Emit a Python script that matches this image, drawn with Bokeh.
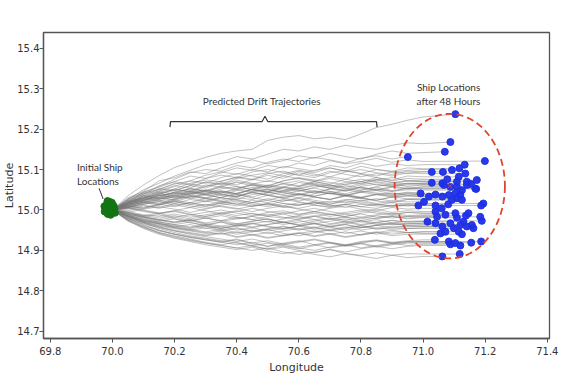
from bokeh.plotting import figure
from bokeh.models import Range1d, FixedTicker, PrintfTickFormatter
from bokeh.embed import file_html
from bokeh.resources import INLINE
from bokeh.core.properties import value

# ---------------- data ----------------
x_ticks = [69.8, 70.0, 70.2, 70.4, 70.6, 70.8, 71.0, 71.2, 71.4]
y_ticks = [14.7, 14.8, 14.9, 15.0, 15.1, 15.2, 15.3, 15.4]

start_lon = [69.978, 69.982, 69.990, 69.998, 70.004, 70.003, 69.994, 69.985,
             69.975, 69.990, 69.998, 69.984, 70.006, 69.974, 70.008]
start_lat = [15.002, 15.014, 15.020, 15.018, 15.010, 14.996, 14.988, 14.990,
             14.996, 15.005, 15.000, 15.022, 15.003, 15.009, 14.993]

end_lon = [71.104, 71.088, 71.070, 70.951, 71.199, 71.134, 71.117, 71.093, 71.028, 71.064,
           71.136, 71.115, 71.078, 71.028, 71.173, 71.141, 71.155, 71.109, 71.062, 71.067,
           71.088, 71.109, 71.125, 71.141, 71.168, 70.992, 71.019, 71.040, 71.062, 71.083,
           71.104, 71.120, 71.109, 71.125, 71.003, 70.985, 71.040, 71.081, 71.194, 71.187,
           71.040, 71.045, 71.072, 71.104, 71.109, 71.138, 71.146, 71.184, 71.189, 71.014,
           71.040, 71.062, 71.088, 71.099, 71.120, 71.130, 71.141, 71.157, 71.162, 71.056,
           71.072, 71.115, 71.125, 71.038, 71.083, 71.088, 71.104, 71.120, 71.155, 71.187,
           71.062, 71.118, 71.171, 71.060, 71.093]
end_lat = [15.237, 15.168, 15.144, 15.131, 15.121, 15.112, 15.103, 15.099, 15.094, 15.094,
           15.090, 15.082, 15.076, 15.067, 15.074, 15.070, 15.064, 15.070, 15.066, 15.062,
           15.057, 15.057, 15.049, 15.062, 15.053, 15.041, 15.033, 15.038, 15.033, 15.037,
           15.041, 15.037, 15.029, 15.025, 15.020, 15.011, 15.011, 15.014, 15.016, 15.011,
           14.996, 14.983, 14.988, 14.992, 14.981, 14.986, 14.992, 14.983, 14.973, 14.971,
           14.967, 14.959, 14.967, 14.955, 14.963, 14.971, 14.959, 14.963, 14.955, 14.942,
           14.946, 14.946, 14.940, 14.926, 14.922, 14.915, 14.918, 14.912, 14.919, 14.922,
           14.885, 14.891, 15.052, 15.004, 15.025]

# longitudes at which each drift trajectory's latitude was read
track_lon = [70.00, 70.05, 70.10, 70.15, 70.20, 70.25, 70.30, 70.35, 70.40, 70.45,
             70.50, 70.55, 70.60, 70.65, 70.70, 70.75, 70.80, 70.85, 70.90, 70.95, 71.00]
track_base_lat = 15.0
# latitude of each trajectory, in thousandths of a degree from 15.0 (one row per track,
# same order as the end positions)
track_lat_mdeg = [
    [0, 35, 62, 85, 105, 118, 130, 140, 146, 150, 172, 180, 184, 176, 180, 174, 188, 204, 212, 222, 230],
    [0, 26, 50, 66, 84, 98, 112, 118, 132, 126, 138, 150, 146, 156, 150, 160, 154, 150, 160, 166, 164],
    [0, 30, 46, 72, 80, 94, 90, 104, 116, 124, 114, 122, 134, 128, 140, 132, 126, 138, 146, 140, 142],
    [0, 20, 44, 58, 76, 92, 100, 96, 110, 104, 118, 126, 120, 130, 124, 116, 128, 134, 126, 132, 130],
    [0, 24, 38, 60, 70, 84, 78, 92, 104, 98, 110, 104, 116, 110, 122, 114, 120, 128, 118, 124, 120],
    [0, 16, 34, 52, 64, 72, 86, 94, 88, 100, 94, 108, 102, 96, 110, 104, 116, 108, 114, 110, 112],
    [0, 28, 42, 50, 66, 62, 78, 86, 80, 94, 100, 92, 86, 98, 104, 96, 108, 100, 96, 104, 102],
    [0, 18, 40, 46, 58, 72, 66, 80, 90, 84, 76, 90, 98, 92, 104, 96, 90, 100, 94, 98, 100],
    [0, 22, 30, 48, 60, 54, 70, 64, 78, 86, 92, 84, 96, 88, 82, 94, 100, 92, 88, 96, 94],
    [0, 14, 36, 44, 52, 66, 74, 70, 82, 76, 90, 96, 86, 80, 92, 98, 90, 84, 94, 90, 95],
    [0, 26, 44, 56, 70, 64, 58, 72, 80, 74, 86, 78, 92, 84, 96, 88, 82, 90, 84, 92, 90],
    [0, 12, 24, 40, 48, 60, 54, 68, 62, 76, 70, 84, 78, 72, 82, 76, 88, 80, 74, 84, 82],
    [0, 20, 30, 38, 52, 46, 62, 56, 70, 64, 58, 72, 78, 70, 64, 76, 70, 80, 72, 78, 76],
    [0, 24, 40, 52, 48, 60, 68, 62, 74, 66, 60, 72, 80, 74, 68, 62, 70, 76, 68, 64, 66],
    [0, 10, 26, 32, 44, 52, 46, 58, 52, 64, 72, 66, 60, 70, 78, 70, 64, 74, 80, 72, 74],
    [0, 18, 28, 44, 40, 54, 48, 60, 68, 60, 54, 66, 72, 64, 58, 68, 76, 70, 64, 72, 70],
    [0, 22, 36, 30, 44, 52, 46, 56, 50, 62, 56, 48, 58, 66, 60, 52, 62, 68, 60, 66, 64],
    [0, 8, 20, 30, 26, 40, 48, 42, 54, 62, 56, 64, 58, 70, 62, 56, 66, 74, 68, 72, 70],
    [0, 16, 32, 42, 50, 44, 58, 66, 58, 50, 62, 56, 68, 62, 54, 64, 70, 62, 58, 66, 66],
    [0, 14, 22, 36, 30, 42, 50, 44, 38, 52, 60, 52, 46, 56, 62, 54, 48, 58, 64, 58, 62],
    [0, 20, 34, 28, 40, 48, 42, 36, 48, 56, 50, 44, 54, 62, 54, 48, 56, 50, 58, 54, 57],
    [0, 12, 28, 40, 36, 46, 40, 52, 58, 50, 44, 56, 50, 42, 52, 60, 54, 48, 56, 52, 57],
    [0, 18, 24, 34, 44, 38, 30, 42, 50, 44, 36, 46, 54, 46, 40, 50, 44, 52, 46, 50, 49],
    [0, 6, 18, 26, 34, 28, 42, 48, 40, 52, 46, 58, 52, 60, 54, 48, 58, 64, 58, 62, 62],
    [0, 14, 30, 26, 38, 46, 38, 30, 42, 50, 44, 56, 48, 42, 52, 46, 56, 50, 46, 54, 53],
    [0, 18, 26, 36, 30, 40, 46, 38, 32, 44, 50, 42, 36, 46, 40, 34, 44, 48, 40, 42, 41],
    [0, 10, 22, 16, 28, 36, 30, 24, 34, 42, 36, 28, 38, 32, 26, 36, 30, 38, 32, 34, 33],
    [0, 20, 30, 40, 34, 44, 38, 46, 40, 32, 42, 48, 40, 34, 42, 36, 44, 38, 34, 40, 38],
    [0, 12, 18, 28, 36, 30, 22, 32, 38, 30, 24, 34, 40, 32, 26, 36, 30, 24, 32, 36, 33],
    [0, 6, 16, 24, 20, 32, 38, 30, 26, 38, 44, 36, 30, 40, 46, 38, 32, 40, 36, 40, 37],
    [0, 16, 24, 36, 42, 36, 48, 40, 34, 46, 52, 44, 38, 48, 42, 36, 46, 42, 38, 44, 41],
    [0, 8, 20, 14, 26, 34, 28, 38, 32, 44, 38, 30, 40, 34, 42, 36, 30, 38, 42, 36, 37],
    [0, 14, 22, 30, 24, 34, 28, 20, 30, 26, 36, 30, 22, 32, 26, 34, 28, 24, 32, 28, 29],
    [0, 6, 14, 22, 16, 26, 20, 30, 24, 18, 28, 22, 30, 24, 18, 26, 22, 28, 22, 26, 25],
    [0, 12, 18, 12, 24, 18, 28, 22, 14, 24, 18, 26, 20, 14, 22, 18, 24, 16, 22, 20, 20],
    [0, 8, 14, 20, 12, 18, 10, 16, 22, 14, 8, 16, 12, 18, 10, 14, 8, 14, 10, 12, 11],
    [0, 4, 12, 6, 16, 10, 4, 12, 18, 10, 14, 6, 12, 18, 12, 6, 14, 10, 8, 12, 11],
    [0, -2, 6, 14, 8, 18, 12, 20, 14, 8, 16, 10, 18, 12, 6, 14, 20, 14, 10, 16, 14],
    [0, 10, 4, 12, 20, 14, 22, 16, 10, 18, 24, 16, 12, 20, 14, 22, 16, 12, 18, 14, 16],
    [0, 2, 10, 4, 12, 6, 14, 8, 2, 10, 16, 8, 4, 12, 8, 14, 8, 4, 12, 10, 11],
    [0, 6, 0, -8, -2, 6, -2, -10, -4, 4, -4, -10, -2, 4, -4, -10, -4, 2, -6, -2, -4],
    [0, -8, -14, -8, -18, -12, -20, -14, -22, -16, -10, -18, -24, -16, -10, -18, -22, -14, -20, -16, -17],
    [0, -4, -12, -16, -10, -18, -12, -6, -14, -8, -16, -20, -14, -8, -16, -10, -18, -12, -8, -14, -12],
    [0, 4, -4, -10, -4, -12, -6, 0, -8, -14, -6, -2, -10, -4, -12, -6, 0, -8, -12, -6, -8],
    [0, -10, -18, -24, -18, -26, -20, -28, -22, -16, -24, -30, -22, -16, -24, -18, -26, -20, -16, -22, -19],
    [0, -6, -14, -20, -14, -22, -16, -10, -18, -24, -16, -10, -20, -14, -22, -16, -10, -18, -14, -16, -14],
    [0, 6, -2, -8, -2, -10, -16, -8, -2, -10, -14, -6, -12, -4, -10, -16, -8, -4, -10, -6, -8],
    [0, -8, -16, -12, -22, -28, -20, -26, -18, -24, -30, -22, -16, -24, -20, -26, -18, -22, -16, -20, -17],
    [0, -12, -20, -28, -22, -32, -38, -30, -36, -28, -22, -32, -26, -34, -28, -22, -30, -24, -32, -28, -27],
    [0, -10, -18, -26, -32, -26, -36, -30, -40, -34, -28, -36, -30, -24, -34, -28, -36, -30, -26, -30, -29],
    [0, -14, -22, -30, -36, -30, -40, -46, -38, -44, -36, -30, -38, -44, -36, -30, -38, -32, -36, -34, -33],
    [0, -16, -28, -34, -42, -36, -46, -40, -50, -44, -52, -46, -40, -48, -42, -50, -44, -38, -44, -40, -41],
    [0, -6, -16, -24, -30, -24, -34, -40, -34, -42, -36, -30, -38, -32, -40, -34, -28, -36, -32, -34, -33],
    [0, -18, -30, -38, -44, -50, -44, -52, -46, -54, -48, -42, -50, -44, -52, -46, -40, -48, -44, -46, -45],
    [0, -12, -24, -30, -36, -42, -36, -44, -38, -32, -40, -46, -40, -34, -42, -36, -44, -38, -34, -38, -37],
    [0, -10, -18, -24, -30, -24, -32, -26, -34, -28, -22, -30, -36, -28, -22, -30, -26, -32, -26, -30, -29],
    [0, -14, -26, -32, -40, -46, -40, -50, -44, -52, -46, -40, -48, -42, -50, -44, -38, -46, -40, -42, -41],
    [0, -16, -26, -34, -38, -44, -38, -46, -40, -34, -42, -48, -40, -34, -42, -36, -44, -38, -34, -38, -37],
    [0, -14, -24, -34, -42, -48, -54, -48, -56, -50, -58, -52, -46, -54, -48, -42, -50, -44, -48, -46, -45],
    [0, -20, -32, -42, -50, -56, -62, -56, -66, -60, -68, -62, -56, -64, -58, -66, -60, -54, -60, -56, -58],
    [0, -16, -30, -40, -46, -52, -58, -52, -60, -54, -48, -58, -64, -56, -50, -58, -52, -60, -54, -56, -54],
    [0, -14, -28, -36, -44, -50, -56, -60, -54, -62, -56, -64, -58, -52, -60, -54, -62, -56, -50, -56, -54],
    [0, -22, -34, -44, -52, -58, -64, -58, -68, -62, -70, -64, -58, -66, -60, -68, -62, -56, -64, -60, -60],
    [0, -24, -40, -52, -60, -66, -72, -78, -72, -82, -76, -84, -78, -72, -80, -86, -78, -74, -80, -76, -74],
    [0, -20, -38, -50, -60, -68, -74, -80, -74, -84, -90, -82, -76, -86, -80, -88, -82, -76, -82, -78, -78],
    [0, -26, -42, -56, -64, -72, -80, -86, -80, -90, -96, -88, -94, -100, -92, -86, -94, -88, -82, -88, -85],
    [0, -22, -36, -50, -60, -68, -74, -80, -86, -80, -90, -84, -92, -86, -94, -88, -82, -90, -84, -80, -82],
    [0, -28, -44, -58, -68, -76, -82, -88, -94, -88, -98, -92, -100, -106, -98, -104, -96, -90, -96, -90, -88],
    [0, -18, -32, -46, -56, -64, -70, -76, -82, -88, -82, -90, -96, -88, -82, -90, -84, -92, -86, -82, -81],
    [0, -16, -30, -42, -52, -60, -66, -72, -78, -72, -80, -86, -80, -74, -82, -88, -80, -76, -82, -78, -78],
    [0, -26, -46, -60, -70, -78, -86, -92, -98, -92, -102, -108, -102, -110, -116, -108, -114, -120, -112, -118, -115],
    [0, -24, -42, -56, -66, -74, -82, -88, -94, -100, -94, -104, -110, -104, -98, -108, -112, -106, -112, -108, -109],
    [0, 16, 28, 22, 34, 42, 36, 46, 40, 50, 44, 38, 48, 54, 46, 40, 50, 56, 48, 54, 52],
    [0, -6, 2, 8, 2, -6, 2, 10, 4, -4, 4, 10, 2, -4, 4, 10, 2, -2, 6, 2, 4],
    [0, 10, 4, 14, 22, 14, 8, 18, 26, 18, 12, 22, 28, 20, 14, 24, 30, 22, 18, 26, 25],
]

# mean end position and spread circle
center_lon = 71.086
center_lat = 15.059
spread_lon = 0.355
spread_lat = 0.358

# annotation anchors (data coordinates)
brace_lon = [70.185, 70.187, 70.482, 70.491, 70.500, 70.850, 70.852]
brace_lat = [15.205, 15.2186, 15.2186, 15.232, 15.2186, 15.2186, 15.205]
pointer_lon = [69.957, 69.970]
pointer_lat = [15.0535, 15.0272]
label_text = ["Predicted Drift Trajectories", "Ship Locations", "after 48 Hours"]
label_lon = [70.481, 71.082, 71.082]
label_lat = [15.2698, 15.305, 15.2705]
init_text = ["Initial Ship", "Locations"]
init_lon = [69.886, 69.886]
init_lat = [15.1072, 15.0725]

# ---------------- figure ----------------
p = figure(frame_width=506, frame_height=306,
           x_range=Range1d(69.778, 71.407), y_range=Range1d(14.682, 15.439),
           output_backend="svg", toolbar_location=None,
           min_border_left=30, min_border_right=10, min_border_top=32, min_border_bottom=36)
p.background_fill_color = "white"
p.border_fill_color = "white"
p.grid.visible = False
p.outline_line_color = "#555555"
p.outline_line_width = 1.3

xs, ys = [], []
for i, row in enumerate(track_lat_mdeg):
    lon_pts = [lo for lo in track_lon if lo < end_lon[i]]
    lat_pts = [track_base_lat + v / 1000 for v in row[:len(lon_pts)]]
    xs.append(lon_pts + [end_lon[i]])
    ys.append(lat_pts + [end_lat[i]])
p.multi_line(xs, ys, line_color="#767676", line_alpha=0.5, line_width=0.9)

p.scatter(start_lon, start_lat, size=7, fill_color="#127512", line_color="#127512")
p.scatter(end_lon, end_lat, size=7, fill_color="#1f2fe6", line_color="#1f2fe6", alpha=0.95)

p.ellipse(x=[center_lon], y=[center_lat], width=spread_lon, height=spread_lat,
          fill_color=None, line_color="#e0452c", line_width=1.8, line_dash="7 4")
p.scatter([center_lon], [center_lat], marker="x", size=6, line_color="#e03030", line_width=1)

p.line(brace_lon, brace_lat, line_color="#333333", line_width=1.2)
p.line(pointer_lon, pointer_lat, line_color="#333333", line_width=1)

ann_font = value("Lato")
p.text(label_lon, label_lat, text=label_text, text_font=ann_font, text_font_size="10px",
       text_align="center", text_baseline="middle", text_color="#333333")
p.text(init_lon, init_lat, text=init_text, text_font=ann_font, text_font_size="10px",
       text_align="left", text_baseline="middle", text_color="#333333")

for ax in (p.xaxis[0], p.yaxis[0]):
    ax.major_label_text_font = "DejaVu Sans"
    ax.major_label_text_font_size = "10px"
    ax.major_label_text_color = "#333333"
    ax.axis_label_text_font = "DejaVu Sans"
    ax.axis_label_text_font_size = "11px"
    ax.axis_label_text_font_style = "normal"
    ax.axis_label_text_color = "#333333"
    ax.axis_line_color = "#555555"
    ax.axis_line_width = 1.3
    ax.major_tick_line_color = "#555555"
    ax.major_tick_in = 0
    ax.major_tick_out = 4
    ax.minor_tick_line_color = None
    ax.formatter = PrintfTickFormatter(format="%.1f")

p.xaxis.ticker = FixedTicker(ticks=x_ticks)
p.yaxis.ticker = FixedTicker(ticks=y_ticks)
p.xaxis.axis_label = "Longitude"
p.yaxis.axis_label = "Latitude"
p.xaxis.major_label_standoff = 4
p.xaxis.axis_label_standoff = 3
p.yaxis.major_label_standoff = 0
p.yaxis.axis_label_standoff = -2

open("out.html", "w").write(file_html(p, INLINE))
